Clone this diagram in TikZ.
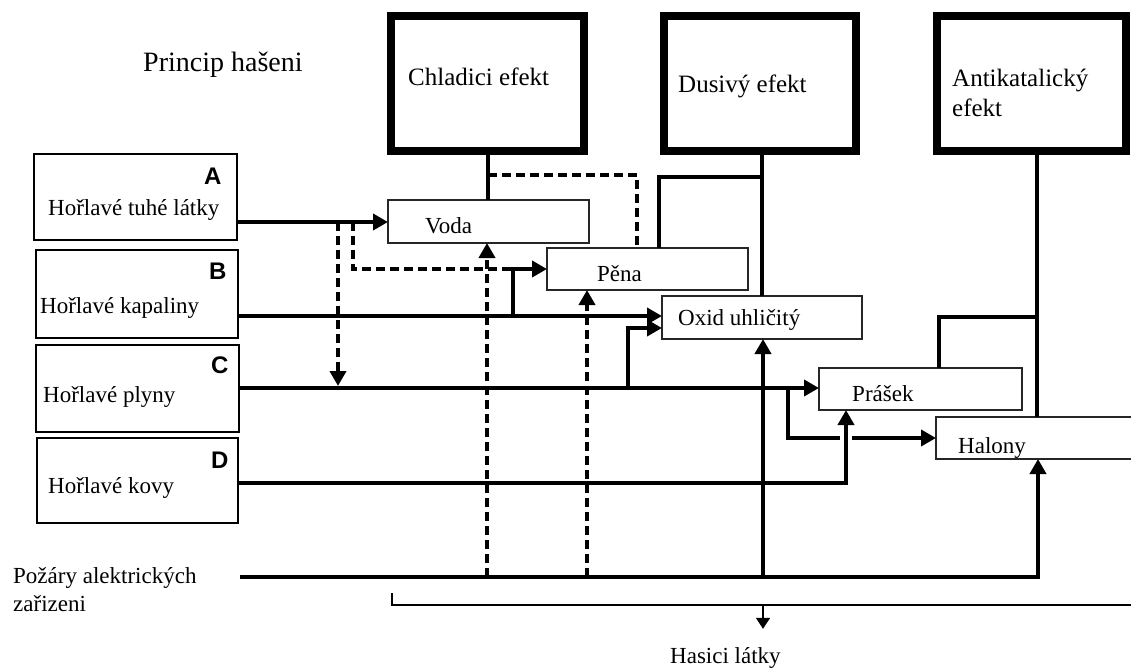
\documentclass[tikz,border=0pt]{standalone}
\usepackage{fontspec}
\setmainfont{Liberation Serif}
\newfontfamily\heavysans{Liberation Sans}
\usetikzlibrary{arrows.meta}
\begin{document}
\begin{tikzpicture}[x=1pt,y=-1pt,
  effbox/.style={draw=black,line width=8pt,outer sep=0pt,inner sep=0pt,anchor=north west},
  subbox/.style={draw=black!85,line width=1.5pt,outer sep=0pt,inner sep=0pt,anchor=north west},
  classbox/.style={draw=black,line width=2pt,outer sep=0pt,inner sep=0pt,anchor=north west},
  lbl/.style={anchor=base west,inner sep=0pt,font=\fontsize{23}{27}\selectfont},
  efflbl/.style={anchor=base west,inner sep=0pt,font=\fontsize{25}{29}\selectfont},
  titlelbl/.style={anchor=base west,inner sep=0pt,font=\fontsize{28}{32}\selectfont},
  letter/.style={anchor=base west,inner sep=0pt,font=\heavysans\bfseries\fontsize{24}{28}\selectfont},
  conn/.style={line width=4pt},
  dconn/.style={line width=4pt,dash pattern=on 9pt off 5pt},
  arr/.style={-{Triangle[length=15pt,width=16pt]}},
  thinline/.style={line width=1.5pt}
]
\useasboundingbox (0,0) rectangle (1131,671);
\clip (0,0) rectangle (1131,671);

% title
\node[titlelbl] (title) at (143,72) {Princip hašeni};

% effect boxes
\node[effbox,minimum width=193pt,minimum height=135pt] (chl) at (391,16) {};
\node[effbox,minimum width=192pt,minimum height=135pt] (dus) at (664,16) {};
\node[effbox,minimum width=189pt,minimum height=135pt] (anti) at (937,16) {};
\node[efflbl] (chlt) at (408,86) {Chladici efekt};
\node[efflbl] (dust) at (678,93) {Dusivý efekt};
\node[efflbl] (antit1) at (952,87) {Antikatalický};
\node[efflbl] (antit2) at (952,117) {efekt};

% class boxes
\node[classbox,minimum width=203pt,minimum height=86pt] (ca) at (34,154) {};
\node[classbox,minimum width=202pt,minimum height=88pt] (cb) at (36,250) {};
\node[classbox,minimum width=203pt,minimum height=87pt] (cc) at (36,345) {};
\node[classbox,minimum width=201pt,minimum height=85pt] (cd) at (37,438) {};
\node[letter] (la) at (204,184) {A};
\node[letter] (lb) at (209,279) {B};
\node[letter] (lc) at (211,373) {C};
\node[letter] (ld) at (211,468) {D};
\node[lbl] (ta) at (48,215) {Hořlavé tuhé látky};
\node[lbl] (tb) at (40,313) {Hořlavé kapaliny};
\node[lbl] (tc) at (43,402) {Hořlavé plyny};
\node[lbl] (td) at (48,493) {Hořlavé kovy};

% substance boxes
\node[subbox,minimum width=201pt,minimum height=43pt] (voda) at (388,200) {};
\node[subbox,minimum width=201pt,minimum height=42pt] (pena) at (547,248) {};
\node[subbox,minimum width=200pt,minimum height=43pt] (oxid) at (662,296) {};
\node[subbox,minimum width=203pt,minimum height=42pt] (prasek) at (819,368) {};
\node[subbox,minimum width=230pt,minimum height=42pt] (halony) at (936,417) {};
\node[lbl] (tvoda) at (425,233) {Voda};
\node[lbl] (tpena) at (597,281) {Pěna};
\node[lbl] (toxid) at (678,325) {Oxid uhličitý};
\node[lbl] (tprasek) at (852,401) {Prášek};
\node[lbl] (thalony) at (958,453) {Halony};

% electrical fires and bracket label
\node[lbl] (pz1) at (13,583) {Požáry alektrických};
\node[lbl] (pz2) at (13,611) {zařizeni};
\node[lbl] (hl) at (670,663) {Hasici látky};

% junction coordinates
\coordinate (chlj) at (488,175);
\coordinate (dusj) at (762,177);
\coordinate (antij) at (1037,317);
\coordinate (aj1) at (338,222);
\coordinate (aj2) at (353,222);
\coordinate (bj) at (513,316);
\coordinate (cj1) at (628,388);
\coordinate (cj2) at (788,388);
\coordinate (pzs) at (240,577);
\coordinate (pzj1) at (487,577);
\coordinate (pzj2) at (587,577);
\coordinate (pzj3) at (763,577);

% effect connectors
\draw[conn] (488,0 |- chl.south) -- (488,0 |- voda.north);
\draw[dconn] (chlj) -- (637,175) -- (637,0 |- pena.north);
\draw[conn] (762,0 |- dus.south) -- (762,0 |- oxid.north);
\draw[conn] (dusj) -- (659,177) -- (659,0 |- pena.north);
\draw[conn] (1037,0 |- anti.south) -- (1037,0 |- halony.north);
\draw[conn] (antij) -- (939,317) -- (939,0 |- prasek.north);

% class A
\draw[conn,arr] (ca.east |- 0,222) -- (voda.west |- 0,222);
\draw[dconn,arr] (aj1) -- (338,386);
\draw[dconn] (aj2) -- (353,269) -- (513,269);

% class B
\draw[conn,arr] (cb.east |- 0,316) -- (oxid.west |- 0,316);
\draw[conn,arr] (bj) -- (513,269) -- (pena.west |- 0,269);

% class C
\draw[conn,arr] (cc.east |- 0,388) -- (prasek.west |- 0,388);
\draw[conn,arr] (cj1) -- (628,328) -- (oxid.west |- 0,328);
\draw[conn,arr] (cj2) -- (788,438) -- (halony.west |- 0,438);
\draw[white,line width=12pt] (846,430) -- (846,446);

% class D
\draw[conn,arr] (cd.east |- 0,483) -- (846,483) -- (846,0 |- prasek.south);

% electrical fires
\draw[conn,arr] (pzs) -- (1038,577) -- (1038,0 |- halony.south);
\draw[conn,arr] (pzj3) -- (763,0 |- oxid.south);
\draw[dconn,arr] (pzj1) -- (487,0 |- voda.south);
\draw[dconn,arr] (pzj2) -- (587,0 |- pena.south);

% bracket
\draw[thinline] (392,593) -- (392,605) -- (1131,605);
\draw[thinline,shorten >=18pt,-{Triangle[length=11pt,width=14pt]}] (763,605) -- (763,0 |- hl.north);
\end{tikzpicture}
\end{document}
